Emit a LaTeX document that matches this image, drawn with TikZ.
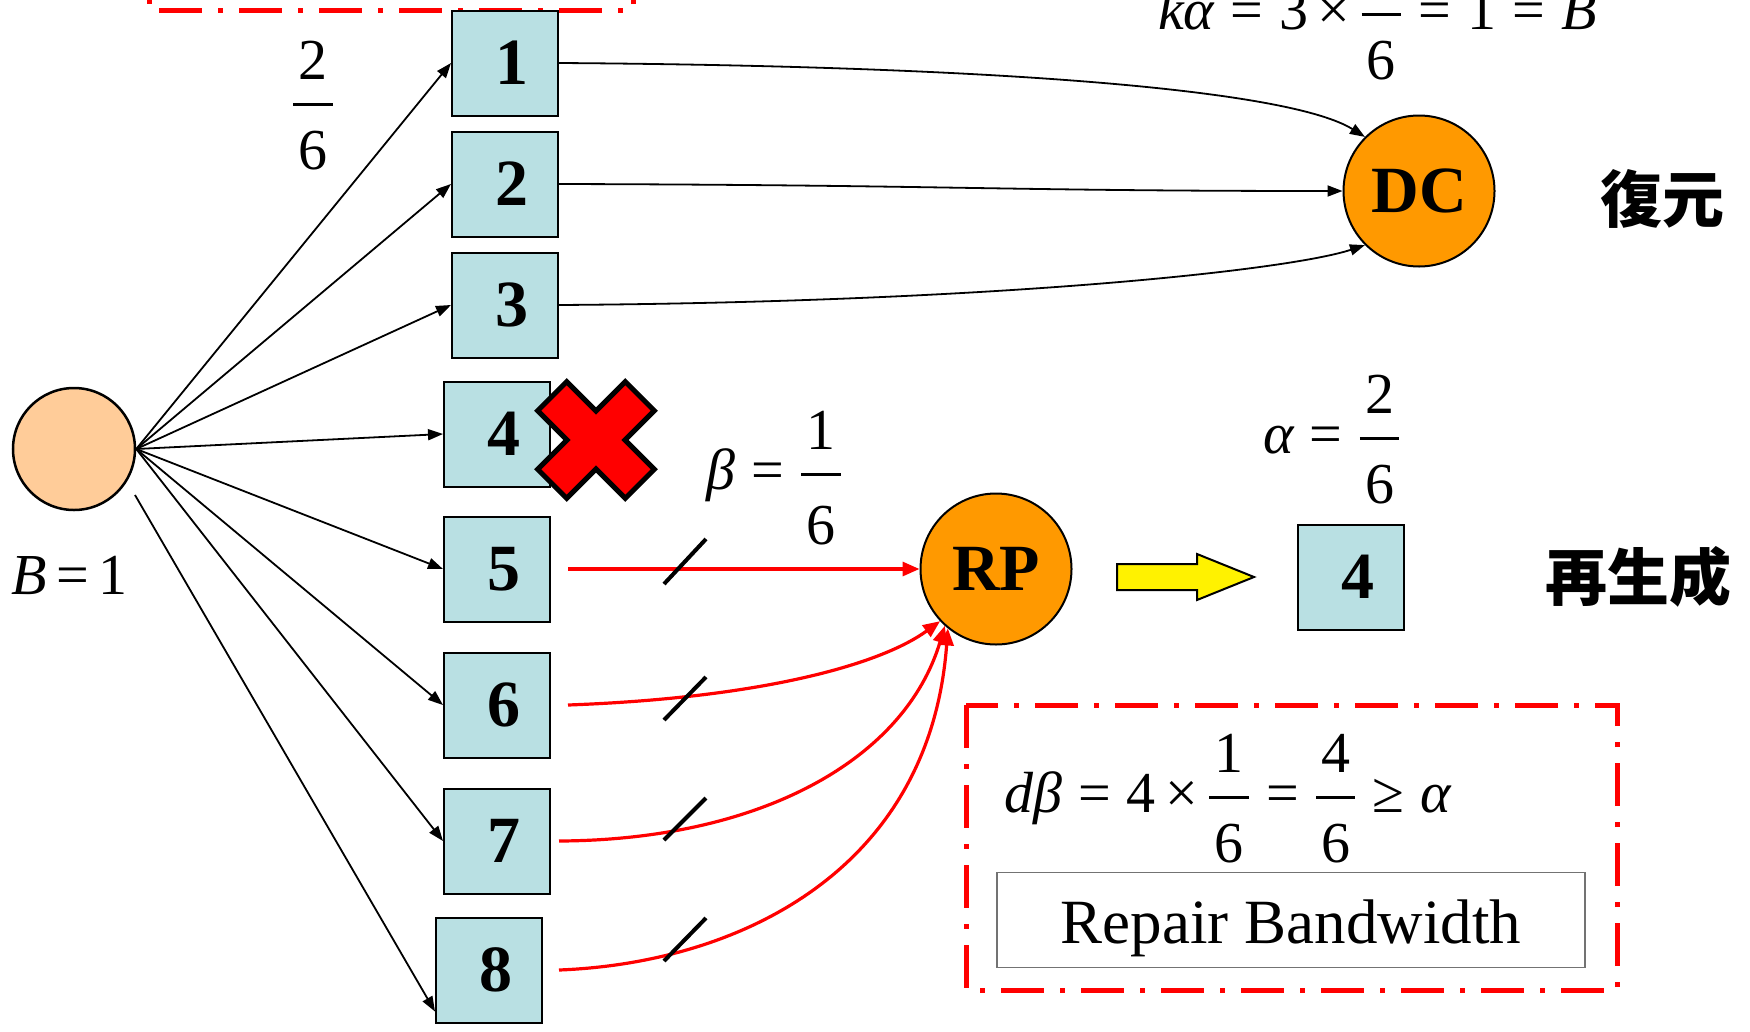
\RequirePackage{fix-cm}
\documentclass[tikz,border=0pt]{standalone}
\usepackage{fontspec}
\setmainfont{Liberation Serif}
\newfontfamily\cjk{Noto Sans CJK JP}
\usetikzlibrary{arrows.meta,calc}
\definecolor{boxblue}{RGB}{185,224,227}
\definecolor{dcorange}{RGB}{255,153,0}
\definecolor{peach}{RGB}{255,204,153}
\newcommand\fr[3][11pt]{{\displaystyle{\makebox[0.68em]{\textrm{#2}}\above 2.6pt\raisebox{-#1}{\makebox[0.68em]{\textrm{#3}}}}}}
\newcommand\eqs{\mathrel{\textrm{=}}}
\newcommand\tms{\mathbin{\textrm{×}}}
\newcommand\mygeq{\mathrel{\textrm{≥}}}
\tikzset{
  box/.style={draw=black, line width=2pt, fill=boxblue, minimum width=106pt, minimum height=105pt, inner sep=0pt, font=\fontsize{66}{66}\selectfont\bfseries},
  hub/.style={circle, draw=black, line width=2pt, fill=dcorange, minimum size=151pt, inner sep=0pt, font=\fontsize{66}{66}\selectfont\bfseries},
  src/.style={circle, draw=black, line width=2.5pt, fill=peach, minimum size=122pt, inner sep=0pt},
  mth/.style={inner sep=0pt, font=\fontsize{58}{60}\selectfont},
  cjkt/.style={inner sep=0pt, font=\fontsize{62}{62}\selectfont\cjk\bfseries},
  blk/.style={line width=1.8pt, -{Triangle[length=15pt,width=11pt]}},
  redarr/.style={draw=red, line width=3.2pt, -{Triangle[length=17pt,width=14pt]}},
  rdash/.style={draw=red, line width=5pt, dash pattern=on 43pt off 16pt on 5pt off 16pt},
  slash/.style={draw=black, line width=4pt},
  xmark/.style={fill=red, draw=black, line width=5pt, line join=miter},
}
\begin{document}
\begin{tikzpicture}[x=1pt,y=-1pt]
\medmuskip=3mu\relax
\useasboundingbox (0,0) rectangle (1750,1031);
\clip (0,0) rectangle (1750,1031);

% red dash-dot frames
\draw[rdash] (149,-60) -- (149,10) -- (633,10) -- (633,-60);
\draw[rdash] (966,705) rectangle (1617,990);

% nodes
\node[src] (src) at (74,449) {};
\coordinate (s8) at (135,495);
\node[box] (b1) at (505,63) {\hspace*{14pt}1};
\node[box] (b2) at (505,184) {\hspace*{14pt}2};
\node[box] (b3) at (505,305) {\hspace*{14pt}3};
\node[box] (b4) at (497,434) {\hspace*{14pt}4};
\node[box] (b5) at (497,569) {\hspace*{14pt}5};
\node[box] (b6) at (497,705) {\hspace*{14pt}6};
\node[box] (b7) at (497,841) {\hspace*{14pt}7};
\node[box] (b8) at (489,970) {\hspace*{14pt}8};
\node[box] (b4n) at (1351,577) {\hspace*{14pt}4};
\node[hub] (dc) at (1419,191) {DC};
\node[hub] (rp) at (996,569) {RP};

% black arrows from source
\draw[blk] (src.east) -- (b1.west);
\draw[blk] (src.east) -- (b2.west);
\draw[blk] (src.east) -- (b3.west);
\draw[blk] (src.east) -- (b4.west);
\draw[blk] (src.east) -- (b5.west);
\draw[blk] (src.east) -- (b6.west);
\draw[blk] (src.east) -- (b7.west);
\draw[blk] (s8) -- ([yshift=12pt]b8.south west);

% arrows to DC
\draw[blk] (b1.east) .. controls (1000,66) and (1290,90) .. (dc.135);
\draw[blk] (b2.east) .. controls (950,185) and (1000,191) .. (dc.west);
\draw[blk] (b3.east) .. controls (1000,302) and (1290,270) .. (dc.225);

% red arrows to RP
\draw[redarr] ([xshift=17pt]b5.east) -- (rp.west);
\draw[redarr] ([xshift=17pt]b6.east) .. controls (760,698) and (880,665) .. (rp.223);
\draw[redarr] ([xshift=8pt]b7.east) .. controls (760,840) and (905,760) .. (rp.228);
\draw[redarr] ([xshift=16pt]b8.east) .. controls (740,963) and (930,870) .. (rp.231);

% slash marks
\draw[slash] (664,584) -- (706,539);
\draw[slash] (664,720) -- (706,677);
\draw[slash] (664,840) -- (706,798);
\draw[slash] (664,961) -- (706,918);

% red X
\begin{scope}[shift={(596,440)}, rotate=45]
\draw[xmark] (20.5,62) -- (20.5,20.5) -- (62,20.5) -- (62,-20.5) -- (20.5,-20.5) -- (20.5,-62)
  -- (-20.5,-62) -- (-20.5,-20.5) -- (-62,-20.5) -- (-62,20.5) -- (-20.5,20.5) -- (-20.5,62) -- cycle;
\end{scope}

% yellow block arrow
\draw[fill=yellow, draw=black, line width=2pt, line join=miter]
  (1117,564) -- (1197,564) -- (1197,554) -- (1254,577) -- (1197,600) -- (1197,590) -- (1117,590) -- cycle;

% formulas
\node[mth, anchor=base west] (fB) at (11,594) {\thickmuskip=3mu$\textit{B}\eqs\textrm{1}$};
\node[mth, anchor=base] (f26) at (313,119) {$\fr26$};
\node[mth, anchor=base west] (fbeta) at (706,489) {$\textit{β}\eqs\fr[16pt]16$};
\node[mth, anchor=base west] (falpha) at (1263,453) {$\textit{α}\eqs\fr26$};
\node[mth, anchor=base west] (fk) at (1158,29) {$\textit{kα}\eqs\textrm{3}\tms\fr26\eqs\textrm{1}\eqs\textit{B}$};
\node[mth, anchor=base west] (fd) at (1004,812) {$\textit{dβ}\eqs\textrm{4}\tms\fr16\eqs\fr46\mygeq\textit{α}$};

\node[draw=black!55, line width=1.5pt, minimum width=588pt, minimum height=95pt, inner sep=0pt] (rb) at (1291,920) {};
\node[inner sep=0pt, anchor=base, font=\fontsize{63}{63}\selectfont] (rbt) at (1291,943) {Repair Bandwidth};

% CJK labels
\node[cjkt] (t1) at (1662,199) {復元};
\node[cjkt] (t2) at (1638,577) {再生成};
\end{tikzpicture}
\end{document}
